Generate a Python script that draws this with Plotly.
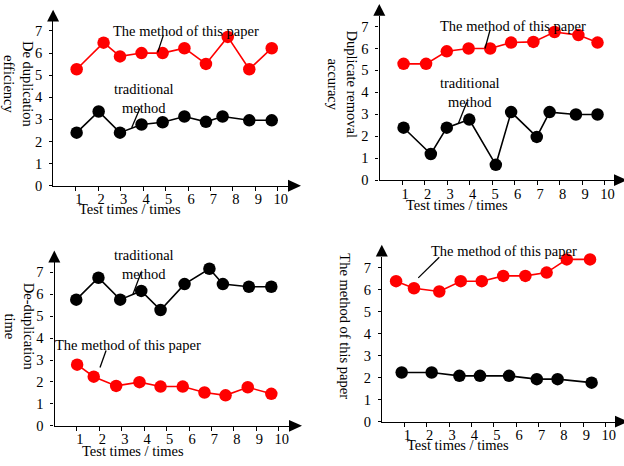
import plotly.graph_objects as go

W, H = 624, 466
FONT = "Liberation Serif, Times New Roman, serif"
RED = "#ff0000"
BLACK = "#000000"

# ---- data: four test panels ----
# Panel 1: de-duplication efficiency
p1_paper_x = [1.04, 2.24, 2.97, 3.93, 4.87, 5.84, 6.80, 7.77, 8.73, 9.73]
p1_paper_y = [5.27, 6.47, 5.85, 6.00, 6.00, 6.22, 5.51, 6.73, 5.27, 6.22]
p1_trad_x = [1.04, 2.02, 2.97, 3.93, 4.87, 5.84, 6.80, 7.54, 8.73, 9.73]
p1_trad_y = [2.40, 3.36, 2.40, 2.77, 2.87, 3.13, 2.89, 3.13, 2.96, 2.96]

# Panel 2: duplicate removal accuracy
p2_paper_x = [1.07, 2.07, 2.99, 3.96, 4.92, 5.85, 6.84, 7.78, 8.84, 9.69]
p2_paper_y = [5.30, 5.30, 5.87, 6.00, 6.00, 6.27, 6.30, 6.75, 6.61, 6.27]
p2_trad_x = [1.07, 2.28, 2.99, 3.99, 5.17, 5.85, 6.99, 7.56, 8.73, 9.69]
p2_trad_y = [2.39, 1.19, 2.39, 2.76, 0.70, 3.10, 1.97, 3.10, 2.99, 2.99]

# Panel 3: de-duplication time
p3_trad_x = [0.97, 1.96, 2.93, 3.87, 4.73, 5.80, 6.91, 7.51, 8.67, 9.67]
p3_trad_y = [5.75, 6.75, 5.75, 6.15, 5.28, 6.46, 7.16, 6.46, 6.34, 6.34]
p3_paper_x = [1.01, 1.75, 2.75, 3.79, 4.73, 5.72, 6.69, 7.63, 8.62, 9.67]
p3_paper_y = [2.79, 2.24, 1.82, 1.99, 1.79, 1.79, 1.52, 1.39, 1.76, 1.46]

# Panel 4
p4_paper_x = [0.63, 1.43, 2.56, 3.52, 4.46, 5.42, 6.41, 7.36, 8.26, 9.30]
p4_paper_y = [6.38, 6.06, 5.91, 6.38, 6.38, 6.62, 6.62, 6.77, 7.37, 7.37]
p4_trad_x = [0.88, 2.22, 3.46, 4.38, 5.68, 6.92, 7.85, 9.37]
p4_trad_y = [2.23, 2.23, 2.08, 2.08, 2.08, 1.93, 1.93, 1.77]

x_ticks = [1, 2, 3, 4, 5, 6, 7, 8, 9, 10]
y_ticks = [0, 1, 2, 3, 4, 5, 6, 7]
x_title = "Test times / times"
paper_label = "The method of this paper"
trad_label = "traditional<br>method"
y_titles = ["De duplication<br>efficiency", "Duplicate removal<br>accuracy",
            "De-duplication<br>time", "The method of this paper"]

# ---- panel geometry (pixels): origin x/y, px per unit, right/top ends, arrow tips ----
panels = [
    dict(x0=53.3, y0=189.0, sx=22.45, sy=22.5, right=292, top=20, ytip=10, xtip=301),
    dict(x0=379.5, y0=183.3, sx=22.5, sy=22.33, right=616, top=16, ytip=4, xtip=627),
    dict(x0=54.5, y0=433.3, sx=22.42, sy=22.33, right=292, top=266, ytip=255, xtip=302),
    dict(x0=382.0, y0=429.0, sx=22.37, sy=22.4, right=617, top=261, ytip=249, xtip=628),
]
series = [
    (p1_paper_x, p1_paper_y, p1_trad_x, p1_trad_y),
    (p2_paper_x, p2_paper_y, p2_trad_x, p2_trad_y),
    (p3_paper_x, p3_paper_y, p3_trad_x, p3_trad_y),
    (p4_paper_x, p4_paper_y, p4_trad_x, p4_trad_y),
]


def px(x):
    return x / W


def py(y):
    return 1 - y / H


fig = go.Figure()
layout = dict(
    width=W, height=H, margin=dict(l=0, r=0, t=0, b=0),
    paper_bgcolor="white", plot_bgcolor="white", showlegend=False,
    font=dict(family=FONT, size=14.5, color=BLACK),
)
shapes, annotations = [], []

for i, (g, (rx, ry, bx, by)) in enumerate(zip(panels, series)):
    n = "" if i == 0 else str(i + 1)
    xa, ya = "x" + n, "y" + n
    xmax = (g["right"] - g["x0"]) / g["sx"]
    ymax = (g["y0"] - g["top"]) / g["sy"]
    layout["xaxis" + n] = dict(
        domain=[px(g["x0"]), px(g["right"])], range=[0, xmax], anchor=ya,
        showgrid=False, zeroline=False, showline=True, linecolor=BLACK, linewidth=1.3,
        tickvals=x_ticks, ticks="outside", ticklen=4, tickcolor=BLACK, tickwidth=1,
        ticklabelshift=3, ticklabelstandoff=-4, tickfont=dict(size=14.5),
    )
    layout["yaxis" + n] = dict(
        domain=[py(g["y0"]), py(g["top"])], range=[0, ymax], anchor=xa,
        showgrid=False, zeroline=False, showline=True, linecolor=BLACK, linewidth=1.3,
        tickvals=y_ticks, ticks="outside", ticklen=3, tickcolor=BLACK, tickwidth=1,
        ticklabelstandoff=4, tickfont=dict(size=14.5),
    )
    for xs, ys, col in ((bx, by, BLACK), (rx, ry, RED)):
        fig.add_trace(go.Scatter(
            x=xs, y=ys, mode="lines+markers", xaxis=xa, yaxis=ya, cliponaxis=False,
            line=dict(color=col, width=1.6),
            marker=dict(color=col, size=12.5, line=dict(width=0)),
        ))
    # arrow heads at the ends of both axes
    tx, ty = g["x0"] - 0.2, g["ytip"]
    shapes.append(dict(
        type="path", xref="paper", yref="paper", fillcolor=BLACK, line=dict(width=0),
        path=f"M {px(tx)} {py(ty)} L {px(tx - 6)} {py(ty + 12)} L {px(tx + 6)} {py(ty + 12)} Z",
    ))
    tx, ty = g["xtip"], g["y0"]
    shapes.append(dict(
        type="path", xref="paper", yref="paper", fillcolor=BLACK, line=dict(width=0),
        path=f"M {px(tx)} {py(ty)} L {px(tx - 13)} {py(ty - 6)} L {px(tx - 13)} {py(ty + 6)} Z",
    ))

# axis titles
x_title_pos = [(130, 213), (457, 208.5), (132.7, 458.5), (458.3, 453)]
y_title_pos = [(18.5, 86), (342, 86), (19.5, 332), (345, 332)]
for (tx, ty), (ux, uy), ytxt in zip(x_title_pos, y_title_pos, y_titles):
    annotations.append(dict(
        x=px(tx), y=py(ty), xref="paper", yref="paper", text=x_title,
        showarrow=False, xanchor="center", yanchor="middle",
    ))
    annotations.append(dict(
        x=px(ux), y=py(uy), xref="paper", yref="paper", text=ytxt, textangle=90,
        showarrow=False, xanchor="center", yanchor="middle",
    ))

# series callouts: (axis suffix, text, text position, anchor, shift, leader start, leader end)
callouts = [
    ("", paper_label, (5.91, 6.99), "middle", 0, (4.90, 6.80), (4.65, 6.03)),
    ("", trad_label, (4.04, 4.04), "middle", -2, (3.86, 3.51), (3.49, 2.62)),
    ("2", paper_label, (5.92, 7.04), "middle", 0, (4.91, 6.83), (4.69, 6.00)),
    ("2", trad_label, (4.02, 4.09), "middle", -2, (3.88, 3.55), (3.50, 2.57)),
    ("3", trad_label, (3.99, 7.45), "middle", -2, (3.86, 6.99), (3.49, 5.97)),
    ("3", paper_label, (3.29, 3.70), "middle", 0, (2.30, 3.43), (2.03, 2.66)),
    ("4", paper_label, (5.45, 7.48), "bottom", -4, (2.56, 7.47), (1.62, 6.53)),
]
for n, txt, (ax_, ay_), anc, shift, (lx0, ly0), (lx1, ly1) in callouts:
    annotations.append(dict(
        x=ax_, y=ay_, xref="x" + n, yref="y" + n, text=txt, showarrow=False,
        xanchor="center", yanchor=anc, yshift=shift, bgcolor="rgba(0,0,0,0)",
    ))
    shapes.append(dict(
        type="line", xref="x" + n, yref="y" + n, x0=lx0, y0=ly0, x1=lx1, y1=ly1,
        line=dict(color=BLACK, width=1.3),
    ))

layout["shapes"] = shapes
layout["annotations"] = annotations
fig.update_layout(**layout)
fig.write_html("out.html")
